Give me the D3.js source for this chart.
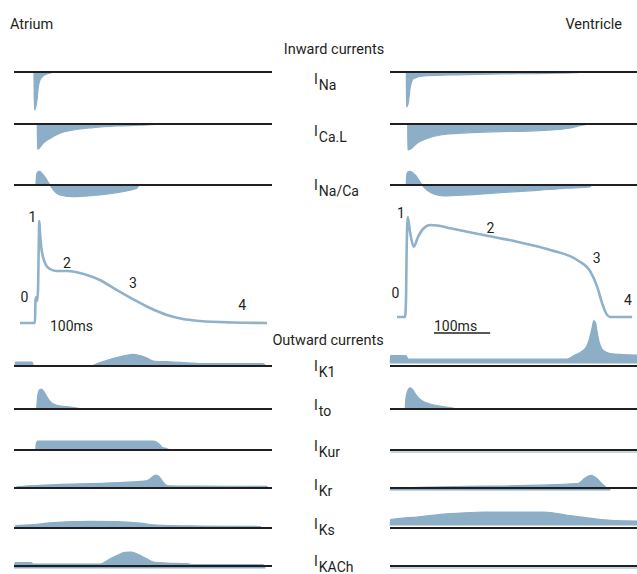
<!DOCTYPE html>
<html><head><meta charset="utf-8">
<script src="https://cdn.jsdelivr.net/npm/d3@7"></script>
<style>
html,body{margin:0;padding:0;background:#fff}
svg{display:block}
text{font-family:Roboto,"Noto Sans",sans-serif;fill:#231f20}
</style>
</head><body>
<svg id="c" width="637" height="574"></svg>
<script>
// ---------------- DATA ----------------
const panelTitles = ["Atrium", "Ventricle"];
const sectionTitles = ["Inward currents", "Outward currents"];
const inwardNames = ["Na", "Ca.L", "Na/Ca"];
const outwardNames = ["K1", "to", "Kur", "Kr", "Ks", "KACh"];
const phaseLabels = ["0", "1", "2", "3", "4"];
const scaleBarLabel = "100ms";
const scaleBarMs = 100;

// action potentials: [time ms, membrane potential mV]
const atriumAP = [[10.7,-80],[37.4,-80],[38.3,-52.9],[40.1,-49.4],[41.5,-54.1],[42.8,-41.2],[45.1,40],[46.3,27.1],[48.1,11.8],[51.7,-2.4],[57,-11.8],[64.2,-16.5],[74.9,-18.8],[94.5,-18.8],[130,-23.5],[153,-29.4],[183.6,-41.2],[212,-51.8],[242.4,-62.4],[272.7,-70.6],[301,-75.3],[331.6,-77.6],[390,-79.4],[451,-80]];
const ventricleAP = [[12.5,-85],[26.7,-85],[28.5,-63.75],[29.4,-13.75],[31.6,40],[35.7,21.25],[42.2,2.9],[49.9,15],[58.8,25],[71.8,30],[83.8,29.4],[107.5,25.9],[167,17.5],[226.4,9.1],[285.7,-1.25],[333.3,-13.75],[357,-28.4],[369,-47.1],[377.9,-67.9],[386.8,-82.5],[392.7,-85],[431.4,-85]];

// phase label anchors [time ms, mV]
const atriumPhasePos = [[18.7,-55.3],[33,38.8],[94.5,-15.3],[212,-38.8],[407,-64.7]];
const ventriclePhasePos = [[9.8,-61.25],[19.6,38.75],[179,20],[368,-17.5],[424,-70]];

// currents: [time ms, relative current] (negative = inward)
const atriumINa = [[35.7,0],[36.2,-0.95],[38.3,-0.9],[41,-0.7],[43.3,-0.375],[46.3,-0.2],[49.9,-0.125],[58.3,-0.05],[67.7,-0.0125],[73,0]];
const atriumICaL = [[41.5,0],[41.9,-0.63],[44.6,-0.61],[52.2,-0.48],[64.2,-0.36],[82,-0.23],[105.7,-0.15],[141.4,-0.09],[183,-0.05],[224.6,-0.03],[251.3,-0.01],[256.7,0]];
const atriumINaCa = [[39.2,0],[39.8,0.175],[41.5,0.31],[45.1,0.35],[49.9,0.29],[55.3,0.2],[60.6,0.075],[64.2,0],[69.5,-0.11],[76.6,-0.21],[85.6,-0.26],[105.2,-0.29],[140.8,-0.26],[183.6,-0.19],[212,-0.11],[219.3,-0.075],[222.8,0]];
const ventricleINa = [[29.1,0],[29.4,-0.87],[32.1,-0.8],[33.3,-0.7],[36.2,-0.37],[42.2,-0.16],[60.1,-0.1],[107.5,-0.075],[196.6,-0.05],[285.7,-0.033],[339.2,-0.008],[347.6,0]];
const ventricleICaL = [[31.6,0],[31.9,-0.65],[36.2,-0.63],[48.1,-0.48],[66,-0.36],[89.7,-0.275],[137.3,-0.22],[196.6,-0.19],[256.1,-0.17],[315.5,-0.11],[345.3,-0.025],[356.5,0]];
const ventricleINaCa = [[29.1,0],[29.6,0.225],[31.6,0.325],[36.2,0.34],[41.9,0.29],[48.1,0.2],[53.5,0.075],[57,0],[66,-0.125],[77.9,-0.225],[95.7,-0.275],[137.3,-0.25],[196.6,-0.19],[256.1,-0.14],[315.5,-0.08],[356.5,-0.05],[358.3,0]];

const atriumIK1 = [[1.8,0],[2.7,0.1],[32.1,0.1],[34.8,0],[135.5,0],[153.3,0.0875],[183,0.21],[197.9,0.26],[212.7,0.29],[224.6,0.26],[237,0.2],[248.3,0.125],[284,0.1],[313.7,0.075],[331.6,0.0625],[443.9,0.0625],[449.2,0]];
const atriumIto = [[40.5,0],[41.5,0.225],[43.7,0.425],[46.3,0.49],[49.4,0.49],[52.6,0.45],[57,0.34],[64.2,0.19],[76.1,0.09],[93.9,0.06],[117.6,0.0125],[123,0]];
const atriumIKur = [[38.9,0],[39.6,0.15],[41.9,0.22],[44.6,0.225],[247.8,0.225],[253.1,0.205],[258.5,0.15],[263.8,0.0675],[272.7,0.0325],[278,0]];
const atriumIKr = [[1.8,0],[5.3,0.03],[236.5,0.18],[242.4,0.225],[247.8,0.29],[253.1,0.325],[258.5,0.29],[266.1,0.14],[275,0.055],[331.6,0.045],[450.4,0.0425],[452.8,0]];
const atriumIKs = [[1.8,0],[3.6,0.0625],[33.9,0.0825],[64.2,0.13],[93.9,0.155],[135.5,0.1675],[183,0.1575],[224.6,0.12],[254.4,0.075],[331.6,0.05],[438.5,0.0375],[442,0]];
const atriumIKACh = [[0.9,0],[1.8,0.1375],[30.3,0.1375],[33.9,0.1],[153.3,0.1],[171.1,0.225],[185.4,0.325],[197.9,0.39],[209.8,0.4],[221,0.34],[235.3,0.24],[248.3,0.15],[272.2,0.125],[307.8,0.1075],[319.6,0.0825],[443.9,0.0825],[447.4,0]];

const ventricleIK1 = [[0.5,0],[0.9,0.1875],[28.5,0.1875],[32.1,0.1],[315.5,0.1],[328,0.1875],[338.7,0.2625],[349.4,0.39],[354.7,0.575],[359.2,0.825],[363.1,1.06],[366.3,1.0],[369,0.775],[372.5,0.525],[376.1,0.39],[381.5,0.3],[392.2,0.2375],[415.3,0.2125],[440.3,0.2]];
const ventricleIto = [[27.3,0],[28,0.225],[30.3,0.4],[33,0.5],[36.2,0.53],[40.1,0.49],[44.6,0.39],[49.9,0.29],[60.1,0.18],[71.3,0.125],[83.8,0.0825],[113.5,0.0175],[117.6,0]];
const ventricleIKur = [[0.5,0],[440,0]];
const ventricleIKr = [[0.5,0],[0.9,0.0325],[333.3,0.1575],[340.5,0.2125],[345.8,0.2825],[352,0.3375],[358.3,0.3675],[363.6,0.3375],[369,0.2825],[374.3,0.2],[380.9,0.1175],[386.8,0.0425],[392.7,0]];
const ventricleIKs = [[0.5,0],[0.9,0.1325],[48.1,0.2],[107.5,0.2825],[167,0.325],[274,0.325],[315.5,0.2425],[363.1,0.1575],[392.7,0.1175],[440.3,0.1]];
const ventricleIKACh = [[0.5,0],[440,0]];

// ---------------- LAYOUT ----------------
const svg = d3.select("#c");
const BLUE = "#8caec7";
const INK = "#231f20";
const panelsCfg = [
  { x: d3.scaleLinear().domain([0, 460]).range([14, 272]),
    v: d3.scaleLinear().domain([-80, 40]).range([323, 221]),
    ap: atriumAP, phase: atriumPhasePos, barText: 64, bar: false,
    inward: [atriumINa, atriumICaL, atriumINaCa],
    outward: [atriumIK1, atriumIto, atriumIKur, atriumIKr, atriumIKs, atriumIKACh],
    outShift: [0, 0, 0, 0, 0, 2] },
  { x: d3.scaleLinear().domain([0, 440]).range([390, 637]),
    v: d3.scaleLinear().domain([-85, 40]).range([317, 217]),
    ap: ventricleAP, phase: ventriclePhasePos, barText: 78.4, bar: true,
    inward: [ventricleINa, ventricleICaL, ventricleINaCa],
    outward: [ventricleIK1, ventricleIto, ventricleIKur, ventricleIKr, ventricleIKs, ventricleIKACh],
    outShift: [-3, 0, 2, 2, -3, 2] }
];
const inwardY = [72, 124, 185];
const outwardY = [366, 409, 450, 488, 528, 566];
const inLabelY = [84, 136, 190];
const outLabelY = [371, 410, 451, 490, 529, 566];
const AMP = 40; // px per current unit

// titles
svg.append("text").attr("x", 10).attr("y", 29).attr("font-size", 14.5).text(panelTitles[0]);
svg.append("text").attr("x", 622).attr("y", 29).attr("font-size", 14.5).attr("text-anchor", "end").text(panelTitles[1]);
svg.append("text").attr("x", 334).attr("y", 54).attr("font-size", 14.5).attr("text-anchor", "middle").text(sectionTitles[0]);
svg.append("text").attr("x", 328).attr("y", 345).attr("font-size", 14.5).attr("text-anchor", "middle").text(sectionTitles[1]);

function drawTrace(p, data, base, shift) {
  const y = d3.scaleLinear().domain([-1, 1]).range([base + shift + AMP, base + shift - AMP]);
  const area = d3.area().curve(d3.curveMonotoneX)
    .x(d => p.x(d[0])).y0(y(0)).y1(d => y(d[1]));
  svg.append("path").attr("d", area(data))
    .attr("fill", BLUE).attr("stroke", BLUE).attr("stroke-width", 1.2);
}
function drawAxis(p, base) {
  const [d0, d1] = p.x.domain();
  svg.append("line").attr("x1", p.x(d0)).attr("x2", p.x(d1))
    .attr("y1", base).attr("y2", base).attr("stroke", INK).attr("stroke-width", 2);
}

panelsCfg.forEach(p => {
  p.inward.forEach((d, i) => drawTrace(p, d, inwardY[i], 0));
  p.outward.forEach((d, i) => drawTrace(p, d, outwardY[i], p.outShift[i]));
  inwardY.forEach(b => drawAxis(p, b));
  outwardY.forEach(b => drawAxis(p, b));

  // action potential
  const line = d3.line().curve(d3.curveMonotoneX).x(d => p.x(d[0])).y(d => p.v(d[1]));
  svg.append("path").attr("d", line(p.ap)).attr("fill", "none")
    .attr("stroke", "#8fb2ca").attr("stroke-width", 2.6).attr("stroke-linejoin", "round");
  p.phase.forEach((d, i) => {
    svg.append("text").attr("x", p.x(d[0])).attr("y", p.v(d[1]))
      .attr("font-size", 14).attr("text-anchor", "middle").text(phaseLabels[i]);
  });
  const restY = p.v(p.v.domain()[0]);
  svg.append("text").attr("x", p.x(p.barText)).attr("y", restY + (p.bar ? 14 : 8))
    .attr("font-size", 14).text(scaleBarLabel);
  if (p.bar) {
    svg.append("line").attr("x1", p.x(p.barText)).attr("x2", p.x(p.barText + scaleBarMs))
      .attr("y1", restY + 16).attr("y2", restY + 16).attr("stroke", INK).attr("stroke-width", 1.5);
  }
});

// centre labels
function label(name, yb) {
  const t = svg.append("text").attr("x", 314).attr("y", yb).attr("font-size", 14);
  t.append("tspan").text("I");
  t.append("tspan").attr("dy", 6).attr("dx", 1).attr("font-size", 14).text(name);
}
inwardNames.forEach((n, i) => label(n, inLabelY[i]));
outwardNames.forEach((n, i) => label(n, outLabelY[i]));
</script>
</body></html>
